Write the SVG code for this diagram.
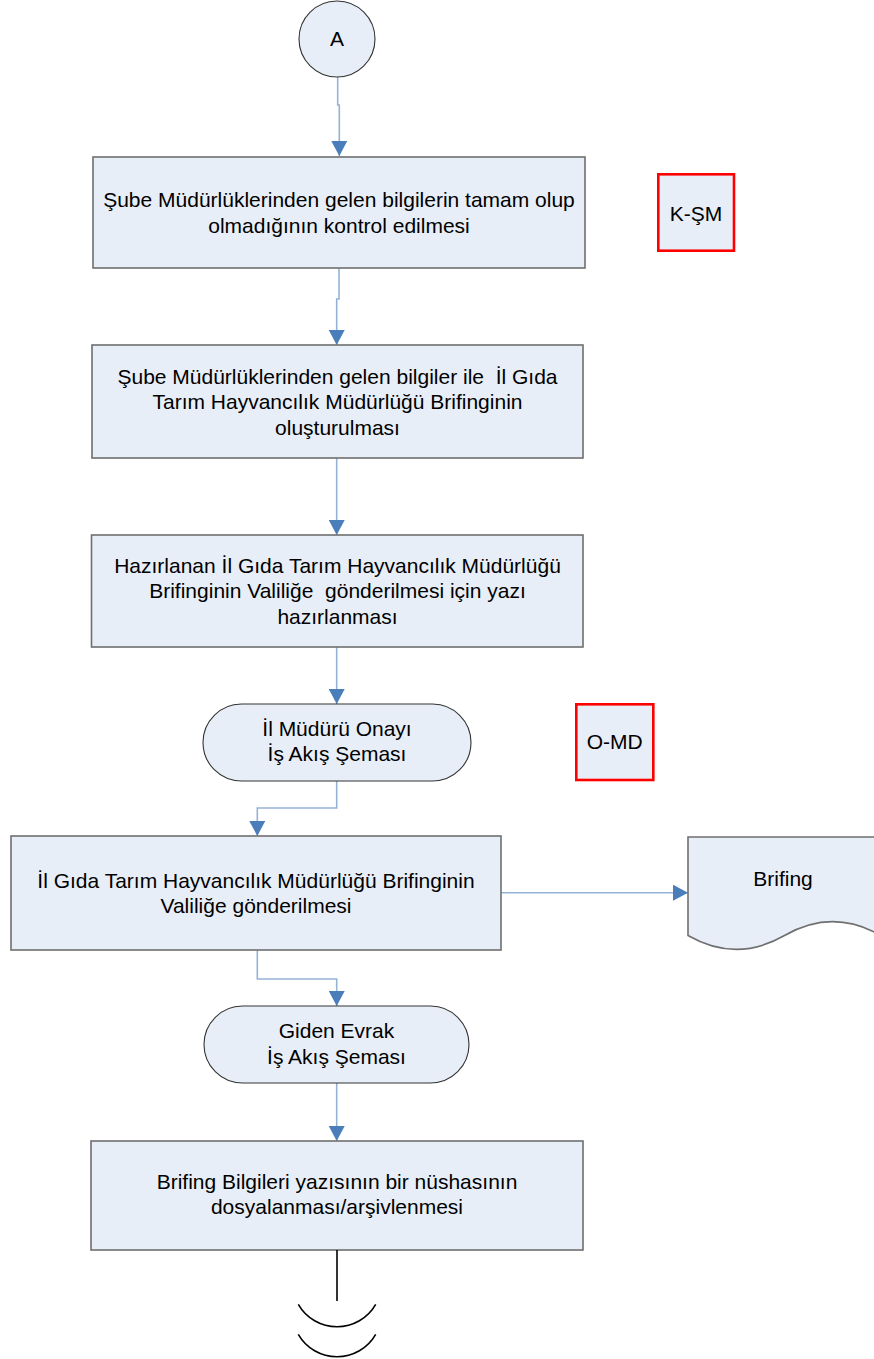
<svg xmlns="http://www.w3.org/2000/svg" width="874" height="1359" viewBox="0 0 874 1359">
<style>
.box{fill:#E8EEF7;stroke:#6F6F6F;stroke-width:1.6}
.term{fill:#E8EEF7;stroke:#333333;stroke-width:1.1}
.tag{fill:#E8EEF7;stroke:#FF0000;stroke-width:2.6}
.t{font-family:"Liberation Sans",Arial,sans-serif;font-size:21px;fill:#000;text-anchor:middle;white-space:pre}
.c{fill:none;stroke:#95B3D7;stroke-width:1.6}
.brk{fill:none;stroke:#000;stroke-width:1.6}
</style>
<defs>
<marker id="arr" markerUnits="userSpaceOnUse" viewBox="0 0 15 16" markerWidth="15" markerHeight="16" refX="15" refY="8" orient="auto">
<path d="M0,0 L15,8 L0,16 Z" fill="#4A7EBB"/>
</marker>
</defs>

<g id="connectors">
<path class="c" d="M337.7,77 V105 H339.3 V156" marker-end="url(#arr)"/>
<path class="c" d="M339,268 V299 H336.7 V345" marker-end="url(#arr)"/>
<path class="c" d="M336.7,458 V535" marker-end="url(#arr)"/>
<path class="c" d="M336.7,647 V704" marker-end="url(#arr)"/>
<path class="c" d="M336.7,781 V808 H257.3 V836" marker-end="url(#arr)"/>
<path class="c" d="M501,892.7 H688" marker-end="url(#arr)"/>
<path class="c" d="M257.3,950 V979 H336.7 V1006" marker-end="url(#arr)"/>
<path class="c" d="M336.7,1083 V1141" marker-end="url(#arr)"/>
</g>

<g id="nodeA">
<circle class="term" cx="337" cy="39" r="38"/>
<text class="t" x="337" y="45.7">A</text>
</g>

<g id="node1">
<rect class="box" x="93" y="157" width="492" height="111"/>
<text class="t" x="339" y="207.3">Şube Müdürlüklerinden gelen bilgilerin tamam olup</text>
<text class="t" x="339" y="232.7">olmadığının kontrol edilmesi</text>
</g>

<g id="tagKSM">
<rect class="tag" x="658.3" y="174.3" width="75.7" height="76.4"/>
<text class="t" x="696" y="220.7">K-ŞM</text>
</g>

<g id="node2">
<rect class="box" x="92" y="345" width="491" height="113"/>
<text class="t" x="337.5" y="383.5">Şube Müdürlüklerinden gelen bilgiler ile  İl Gıda</text>
<text class="t" x="337.5" y="409">Tarım Hayvancılık Müdürlüğü Brifinginin</text>
<text class="t" x="337.5" y="434.5">oluşturulması</text>
</g>

<g id="node3">
<rect class="box" x="91.5" y="535" width="491.5" height="112"/>
<text class="t" x="337.5" y="572.5">Hazırlanan İl Gıda Tarım Hayvancılık Müdürlüğü</text>
<text class="t" x="337.5" y="598">Brifinginin Valiliğe  gönderilmesi için yazı</text>
<text class="t" x="337.5" y="623.5">hazırlanması</text>
</g>

<g id="node4">
<rect class="term" x="203" y="704" width="268" height="77" rx="38.5" ry="38.5"/>
<text class="t" x="337" y="735.5">İl Müdürü Onayı</text>
<text class="t" x="337" y="761">İş Akış Şeması</text>
</g>

<g id="tagOMD">
<rect class="tag" x="576.3" y="704.3" width="77" height="75.7"/>
<text class="t" x="614.7" y="749.3">O-MD</text>
</g>

<g id="node5">
<rect class="box" x="11" y="836" width="490" height="114"/>
<text class="t" x="256" y="888">İl Gıda Tarım Hayvancılık Müdürlüğü Brifinginin</text>
<text class="t" x="256" y="913.3">Valiliğe gönderilmesi</text>
</g>

<g id="doc">
<path class="box" d="M688,935.5 C720,953.9 752.5,953.9 784.5,935.5 C816.5,917.1 849,917.1 881,935.5 V837 H688 Z"/>
<text class="t" x="783" y="886">Brifing</text>
</g>

<g id="node6">
<rect class="term" x="204" y="1006" width="265" height="77" rx="38.5" ry="38.5"/>
<text class="t" x="336.5" y="1038.3">Giden Evrak</text>
<text class="t" x="336.5" y="1064">İş Akış Şeması</text>
</g>

<g id="node7">
<rect class="box" x="91" y="1141" width="492" height="109"/>
<text class="t" x="337" y="1188.5">Brifing Bilgileri yazısının bir nüshasının</text>
<text class="t" x="337" y="1214">dosyalanması/arşivlenmesi</text>
</g>

<g id="break">
<path class="brk" d="M337,1250 V1301"/>
<path class="brk" d="M298.3,1304.3 A44.6,44.6 0 0 0 375.7,1304.3"/>
<path class="brk" d="M298.3,1334.3 A44.6,44.6 0 0 0 375.7,1334.3"/>
</g>
</svg>
